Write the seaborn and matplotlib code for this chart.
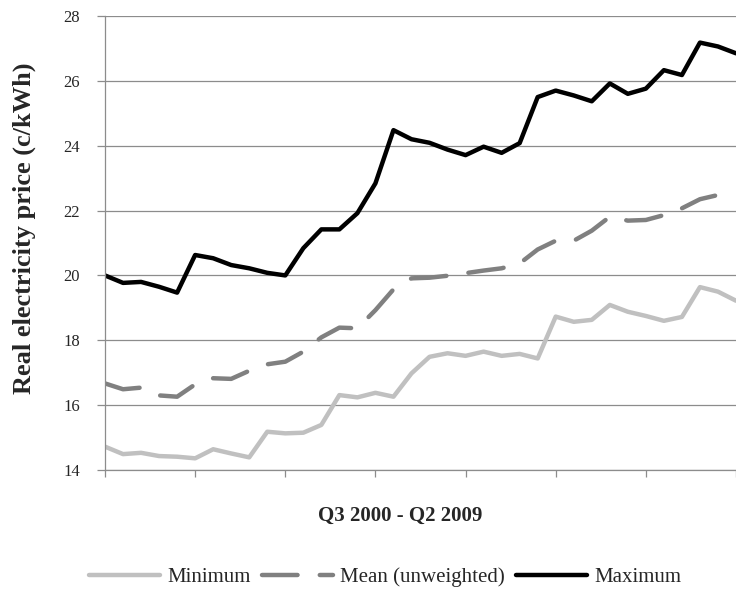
import numpy as np
import matplotlib
matplotlib.use("Agg")
import matplotlib.pyplot as plt
import pandas as pd
import seaborn as sns

# quarterly series, Q3 2000 .. Q2 2009 (36 quarters)
quarters = [f"Q{(q % 4) + 1} {2000 + q // 4}" for q in range(2, 38)]

minimum = [14.72, 14.49, 14.53, 14.43, 14.41, 14.36, 14.64, 14.51, 14.39, 15.18,
           15.13, 15.15, 15.39, 16.31, 16.24, 16.38, 16.26, 16.98, 17.49, 17.60,
           17.52, 17.65, 17.52, 17.58, 17.44, 18.73, 18.57, 18.63, 19.09, 18.88,
           18.75, 18.60, 18.72, 19.64, 19.50, 19.22]
mean_unw = [16.67, 16.49, 16.54, 16.30, 16.26, 16.64, 16.83, 16.81, 17.06, 17.26,
            17.34, 17.65, 18.09, 18.39, 18.37, 18.93, 19.57, 19.91, 19.93, 19.99,
            20.07, 20.15, 20.22, 20.37, 20.80, 21.07, 21.07, 21.38, 21.81, 21.69,
            21.71, 21.86, 22.07, 22.35, 22.48, 22.60]
maximum = [20.00, 19.77, 19.80, 19.65, 19.47, 20.63, 20.53, 20.32, 20.22, 20.08,
           20.00, 20.84, 21.42, 21.42, 21.92, 22.84, 24.48, 24.20, 24.09, 23.88,
           23.71, 23.97, 23.78, 24.08, 25.50, 25.70, 25.55, 25.37, 25.92, 25.60,
           25.76, 26.33, 26.18, 27.18, 27.06, 26.85]

y_ticks = [14, 16, 18, 20, 22, 24, 26, 28]

df = pd.DataFrame({"quarter": quarters, "Minimum": minimum,
                   "Mean (unweighted)": mean_unw, "Maximum": maximum})
df["idx"] = np.arange(len(df))

sns.set_style("white")
plt.rcParams["font.family"] = ["Liberation Serif", "DejaVu Serif"]

fig = plt.figure(figsize=(7.36, 5.92), dpi=100)
ax = fig.add_axes([105 / 736, 1 - 470 / 592, 631 / 736, 454 / 592])

grid_col = "#8c8c8c"
for y in y_ticks:
    ax.axhline(y, color=grid_col, lw=0.9, zorder=0)

sns.lineplot(data=df, x="idx", y="Minimum", color="#c0c0c0", lw=3.2,
             label="Minimum", solid_capstyle="round", solid_joinstyle="round", ax=ax)
sns.lineplot(data=df, x="idx", y="Mean (unweighted)", color="#808080", lw=3.2,
             label="Mean (unweighted)", linestyle=(0, (8.0, 5.0)),
             dash_capstyle="round", dash_joinstyle="round", ax=ax)
sns.lineplot(data=df, x="idx", y="Maximum", color="black", lw=3.2,
             label="Maximum", solid_capstyle="round", solid_joinstyle="round", ax=ax)

ax.set_xlim(0, 34.73)
ax.set_ylim(14, 28)
ax.set_yticks(y_ticks)
ax.set_xticks(np.arange(0, 36, 5))
ax.set_xticklabels([])
ax.tick_params(axis="y", direction="out", length=6, width=0.9, color=grid_col,
               pad=12, labelsize=12, left=True)
ax.tick_params(axis="x", direction="out", length=5, width=0.9, color=grid_col,
               bottom=True)
for s in ["top", "right"]:
    ax.spines[s].set_visible(False)
for s in ["left", "bottom"]:
    ax.spines[s].set_color(grid_col)
    ax.spines[s].set_linewidth(0.9)
ax.set_xlabel("")
ax.set_ylabel("")

fig.text(24 / 736, 1 - 228 / 592, "Real electricity price (c/kWh)",
         rotation=90, ha="center", va="center", fontsize=19, fontweight="bold")
fig.text(400 / 736, 1 - 516 / 592, "Q3 2000 - Q2 2009",
         ha="center", va="center", fontsize=15, fontweight="bold")

handles, labels = ax.get_legend_handles_labels()
ax.get_legend().remove()
fig.legend(handles, labels, loc="center", ncol=3, frameon=False,
           bbox_to_anchor=(385 / 736, 1 - 577 / 592), fontsize=15,
           handlelength=3.4, handletextpad=0.35, columnspacing=0.55)

fig.savefig("out.png", dpi=100)
